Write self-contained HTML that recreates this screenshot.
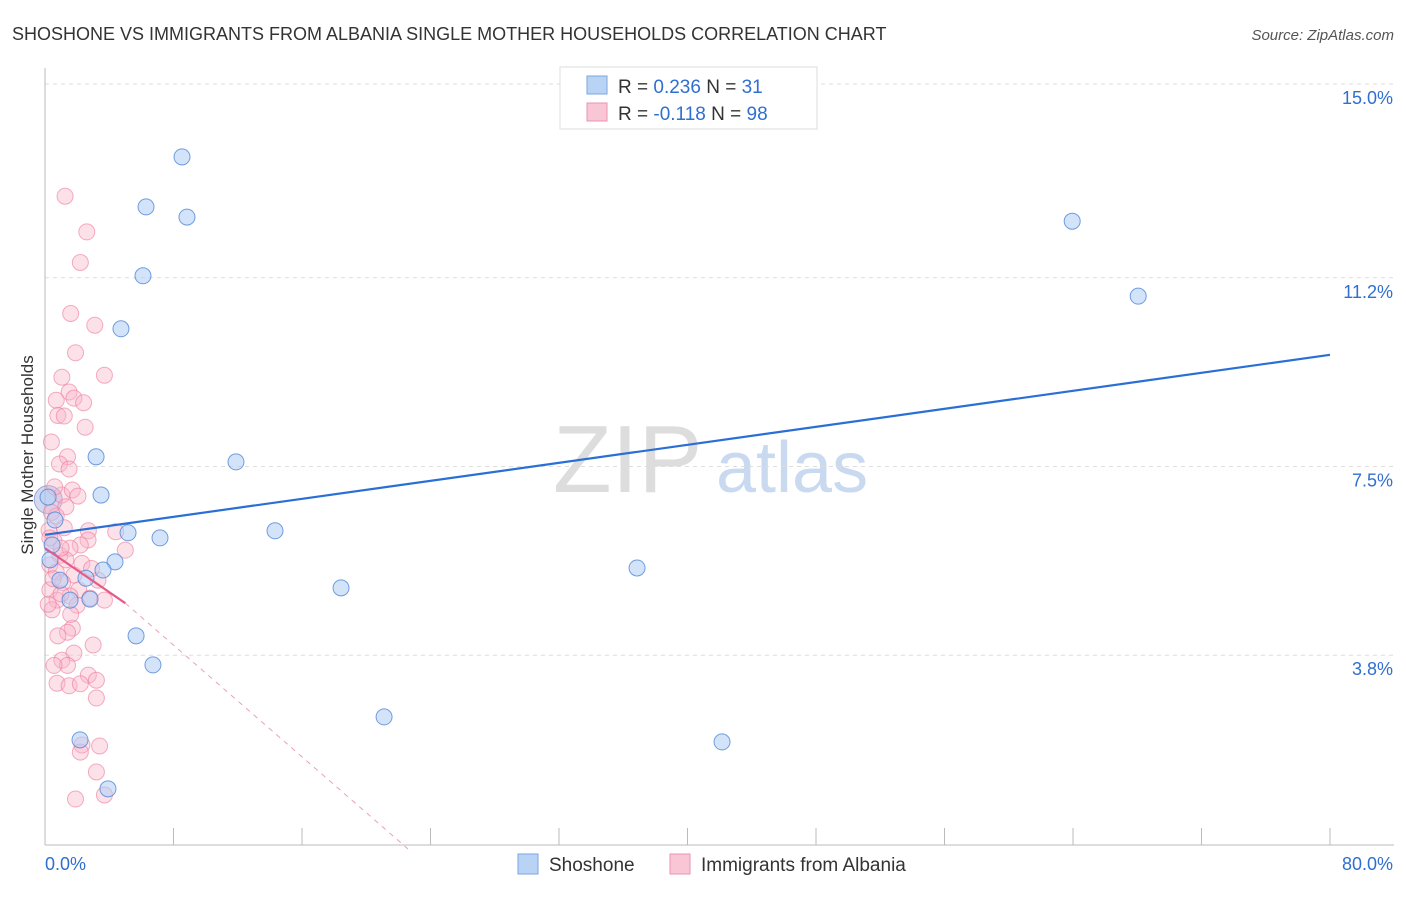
<!DOCTYPE html>
<html><head><meta charset="utf-8"><style>
body{margin:0;background:#fff;font-family:"Liberation Sans",sans-serif;}
svg text{font-family:"Liberation Sans",sans-serif;}
</style></head><body>
<svg id="chart" width="1406" height="892" xmlns="http://www.w3.org/2000/svg">
<text x="12" y="40" font-size="18" fill="#333">SHOSHONE VS IMMIGRANTS FROM ALBANIA SINGLE MOTHER HOUSEHOLDS CORRELATION CHART</text>
<text x="1394" y="40" font-size="15" fill="#555" text-anchor="end" font-style="italic">Source: ZipAtlas.com</text>
<text x="553" y="492" font-size="96" fill="#ddd" font-family="Liberation Serif">ZIP</text>
<text x="716" y="492" font-size="72" fill="#c9daf0">atlas</text>
<g id="grid"></g><g id="axes"></g><g id="marks"></g>
<text transform="translate(33,455) rotate(-90)" font-size="17" fill="#333" text-anchor="middle">Single Mother Households</text>
<g>
<rect x="560" y="67" width="257" height="62" fill="#fff" stroke="#ddd"/>
<rect x="587" y="76" width="20" height="18" fill="#b9d3f5" stroke="#7aa6e0"/>
<rect x="587" y="103" width="20" height="18" fill="#f9c6d6" stroke="#ee93ae"/>
<text x="618" y="93" font-size="19" fill="#333">R = <tspan fill="#2f6fd0">0.236</tspan>   N = <tspan fill="#2f6fd0">31</tspan></text>
<text x="618" y="120" font-size="19" fill="#333">R = <tspan fill="#2f6fd0">-0.118</tspan>   N = <tspan fill="#2f6fd0">98</tspan></text>
</g>
<g>
<rect x="518" y="854" width="20" height="20" fill="#b9d3f5" stroke="#7aa6e0"/>
<text x="549" y="871" font-size="19" fill="#333">Shoshone</text>
<rect x="670" y="854" width="20" height="20" fill="#f9c6d6" stroke="#ee93ae"/>
<text x="701" y="871" font-size="19" fill="#333">Immigrants from Albania</text>
</g>
</svg>
<script>
const yTicks=[3.8,7.5,11.2,15.0];
const yTickLabels=["3.8%","7.5%","11.2%","15.0%"];
const xTickCount=10;
const shoX=[8.53,6.29,8.84,63.95,6.10,68.06,4.73,3.18,11.89,3.49,5.17,7.16,14.32,4.36,3.61,2.55,36.86,18.43,5.67,6.72,21.11,2.18,42.15,3.92,0.19,0.62,0.44,0.93,1.56,0.31,2.8];
const shoY=[13.57,12.59,12.39,12.31,11.24,10.84,10.20,7.69,7.59,6.94,6.20,6.10,6.24,5.63,5.47,5.31,5.51,5.12,4.18,3.61,2.59,2.14,2.10,1.18,6.9,6.45,5.96,5.27,4.88,5.67,4.9];
const albX=[1.25,2.6,2.2,1.6,3.1,1.9,3.7,1.05,1.5,1.8,0.7,2.4,0.8,1.2,2.5,0.4,1.4,0.9,1.5,1.05,1.7,2.05,1.3,0.7,2.7,4.4,0.25,0.56,2.68,2.2,5.0,0.93,1.56,1.3,0.3,0.7,1.8,3.3,1.1,0.3,2.1,1.56,0.75,2.8,3.7,0.44,2.0,1.7,1.4,0.8,3.0,1.8,1.05,1.4,0.56,2.7,0.75,1.5,2.2,3.2,3.2,2.3,3.4,2.2,3.2,1.9,3.7,0.3,0.5,1.0,2.3,0.2,1.2,0.6,2.9,1.6,0.4,1.0];
const albY=[12.8,12.1,11.5,10.5,10.27,9.73,9.29,9.25,8.96,8.84,8.8,8.75,8.5,8.49,8.27,7.98,7.69,7.55,7.45,6.94,7.04,6.92,6.71,6.53,6.24,6.22,6.25,6.04,6.06,5.96,5.86,5.76,5.9,5.67,5.57,5.43,5.37,5.27,5.22,5.08,5.08,4.96,4.88,4.92,4.88,4.69,4.78,4.33,4.25,4.18,4.0,3.84,3.7,3.6,3.6,3.41,3.25,3.2,3.24,3.31,2.96,2.04,2.02,1.9,1.51,0.98,1.06,6.1,5.3,5.0,5.6,4.8,6.3,7.1,5.5,4.6,6.6,5.9];
const shoTrend=[[0,6.16],[80,9.69]];
const albTrend=[[0,5.9],[5,4.82]];
const albDash=[[5,4.82],[22.6,0]];
const X=v=>45+v*1285/80, Y=v=>84+(15-v)*51;
const NS="http://www.w3.org/2000/svg";
function mk(p,t,a){const e=document.createElementNS(NS,t);for(const k in a)e.setAttribute(k,a[k]);document.getElementById(p).appendChild(e);return e;}
yTicks.forEach((t,i)=>{
 const g=mk('grid','line',{x1:45,x2:1394,y1:Y(t),y2:Y(t),stroke:'#ddd','stroke-dasharray':'4,4'});
 
 
 const l=mk('axes','text',{x:1393,y:Y(t)+20,'text-anchor':'end','font-size':18,fill:'#2f6fd0'});
 l.textContent=yTickLabels[i];
 
 
});
const ax=mk('axes','line',{x1:45,x2:45,y1:68,y2:845,stroke:'#bbb'});


const bx=mk('axes','line',{x1:45,x2:1394,y1:845,y2:845,stroke:'#bbb'});


for(let i=0;i<=xTickCount;i++){const t=mk('axes','line',{x1:X(i*8),x2:X(i*8),y1:828,y2:845,stroke:'#bbb'});
 
 }
const x0=mk('axes','text',{x:45,y:870,'font-size':18,fill:'#2f6fd0'});x0.textContent='0.0%';


const x1=mk('axes','text',{x:1393,y:870,'font-size':18,fill:'#2f6fd0','text-anchor':'end'});x1.textContent='80.0%';


const big=mk('marks','circle',{cx:X(0.2),cy:Y(6.85),r:14,fill:'rgba(160,170,220,0.45)',stroke:'rgba(120,140,210,0.7)'});


albX.forEach((v,i)=>{const c=mk('marks','circle',{cx:X(v),cy:Y(albY[i]),r:8,fill:'rgba(249,180,200,0.4)',stroke:'rgba(236,120,155,0.6)'});
 
 });
shoX.forEach((v,i)=>{const c=mk('marks','circle',{cx:X(v),cy:Y(shoY[i]),r:8,fill:'rgba(175,205,245,0.55)',stroke:'rgba(80,135,215,0.8)'});
 
 });
const l1=mk('marks','line',{x1:X(shoTrend[0][0]),y1:Y(shoTrend[0][1]),x2:X(shoTrend[1][0]),y2:Y(shoTrend[1][1]),stroke:'#2a6fd6','stroke-width':2.2});


const l2=mk('marks','line',{x1:X(albTrend[0][0]),y1:Y(albTrend[0][1]),x2:X(albTrend[1][0]),y2:Y(albTrend[1][1]),stroke:'#e45c88','stroke-width':2.2});


const l3=mk('marks','line',{x1:X(albDash[0][0]),y1:Y(albDash[0][1]),x2:X(albDash[1][0]),y2:Y(albDash[1][1]),stroke:'#eaa0b8','stroke-width':1,'stroke-dasharray':'5,5'});


</script>
</body></html>
